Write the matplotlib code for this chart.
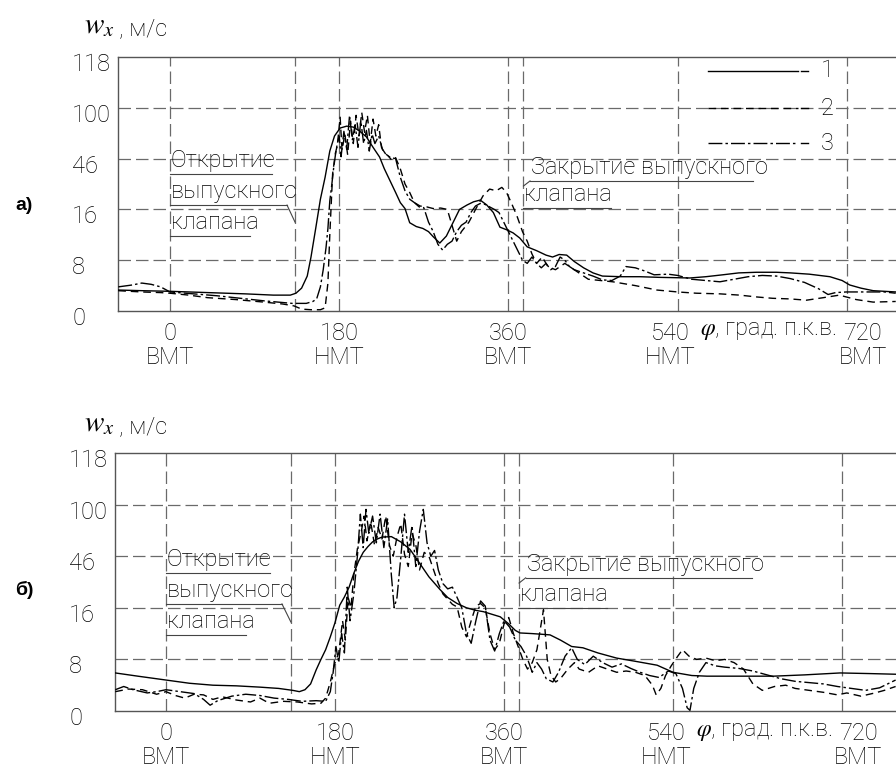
import numpy as np
import matplotlib
matplotlib.use("Agg")
import matplotlib.pyplot as plt
import matplotlib.transforms as mtransforms

plt.rcParams.update({
    "font.family": ["Roboto", "DejaVu Sans"],
    "font.weight": "light",
    "mathtext.fontset": "stix",
})

# ---------------- data ----------------
Y_TICKS = [0, 8, 16, 46, 100, 118]
X_TICKS = [0, 180, 360, 540, 720]
X_TICK_LBL = ["0\nВМТ", "180\nНМТ", "360\nВМТ", "540\nНМТ", "720\nВМТ"]
PHI_OPEN = 133      # открытие выпускного клапана
PHI_CLOSE = 376     # закрытие выпускного клапана

# панель а)
a_phi1 = [-55, -30, 0, 40, 80, 110, 128, 134, 140, 146, 150, 155, 160, 165, 170, 175, 181, 188, 195,
          202, 209, 216, 223, 228, 234, 240, 245, 250, 255, 262, 269, 275, 280, 287, 294, 301, 308,
          316, 323, 330, 337, 344, 351, 358, 365, 372, 380, 390, 400, 407, 414, 422, 430, 440, 450,
          460, 480, 500, 520, 553, 570, 588, 605, 624, 645, 660, 680, 702, 715, 723, 735, 748, 772]
a_w1 = [3.3, 3.2, 3.1, 2.9, 2.7, 2.5, 2.5, 2.8, 3.6, 5.5, 8.5, 13, 22, 35, 54, 70, 78.5, 80.5, 79.5,
        75, 69, 58, 47.6, 40, 33, 26, 20, 16.5, 13.9, 13.3, 13, 12.5, 11.7, 10.7, 11.8, 13.9, 16,
        18.6, 20.5, 21.5, 18.6, 15.5, 13.2, 12.8, 12.3, 11.5, 10.1, 9.5, 8.8, 8.5, 8.9, 8.8, 7.8, 6.8, 6.0,
        5.5, 5.4, 5.4, 5.3, 5.2, 5.4, 5.7, 6.0, 6.1, 6.1, 6.0, 5.8, 5.4, 4.8, 4.1, 3.6, 3.2, 3.0]

a_phi2 = [-55, -30, -10, 0, 20, 40, 70, 100, 120, 132, 140, 150, 160, 165, 168, 170, 173, 176, 178,
          181, 183, 186, 189, 192, 195, 198, 201, 204, 207, 210, 213, 216, 219, 222, 225, 228, 232,
          236, 240, 245, 250, 255, 260, 266, 273, 280, 288, 295, 300, 305, 310, 318, 326, 333, 340,
          347, 353, 358, 363, 369, 375, 380, 385, 390, 396, 402, 410, 420, 430, 445, 471, 495, 518,
          540, 560, 585, 606, 625, 641, 660, 677, 695, 712, 730, 748, 772]
a_w2 = [3.2, 3.0, 2.9, 2.8, 2.5, 2.1, 1.8, 1.4, 1.1, 0.8, 0.3, 0.2, 0.2, 0.5, 4.4, 12, 37, 52, 60,
        90, 55, 72, 50, 86, 62, 92, 70, 95, 74, 92, 62, 88, 70, 82, 58, 52, 49,
        45, 47, 40, 31, 26, 20, 18, 17.5, 16.5, 16.8, 16, 13.5, 11, 12.5, 14, 17, 24, 28,
        27, 29, 26, 20, 15, 12.5, 11, 9, 7.5, 8.5, 7, 6.5, 7.5, 6.5, 5, 4.6, 4.0, 3.3,
        3.0, 2.8, 2.7, 2.5, 2.2, 2.0, 1.9, 1.7, 2.1, 2.5, 1.8, 1.4, 1.5]

a_phi3 = [-55, -40, -30, -20, -10, 0, 25, 50, 75, 100, 130, 145, 152, 156, 160, 163, 166, 168, 170,
          172, 174, 176, 178, 180, 182, 185, 188, 191, 194, 197, 200, 203, 206, 209, 212, 215, 218,
          222, 226, 230, 235, 240, 245, 250, 255, 260, 265, 270, 275, 280, 285, 290, 295, 300, 305,
          310, 315, 320, 325, 330, 335, 340, 345, 350, 355, 360, 365, 370, 375, 380, 385, 390, 395,
          400, 405, 410, 415, 420, 425, 430, 440, 450, 460, 470, 479, 485, 495, 505, 515, 530, 540,
          555, 570, 585, 600, 615, 630, 645, 660, 675, 690, 700, 708, 720, 740, 760, 772]
a_w3 = [3.8, 4.1, 4.4, 4.2, 3.8, 3.0, 2.7, 2.4, 2.0, 1.6, 1.2, 1.2, 1.5, 1.9, 3.8, 6.5, 10, 13, 21,
        30, 40, 50, 62, 70, 48, 75, 56, 92, 66, 82, 58, 86, 62, 76, 54, 72, 62,
        70, 56, 50, 47, 46, 35, 27, 22, 20, 17.5, 17, 14, 12.5, 10.5, 9.6, 10.5, 11, 12.5,
        13.5, 14, 15.5, 18, 19.5, 19, 17.5, 16, 15.5, 14, 12.5, 11, 9.5, 8, 7.5, 8.5, 7.5, 6.8,
        7.5, 6.5, 7, 8.5, 8, 7, 6.5, 6, 5.5, 4.9, 4.8, 5.5, 7.0, 6.8, 6.3, 5.7, 5.8, 5.6,
        5.0, 4.8, 4.6, 5.0, 5.4, 5.6, 5.5, 5.1, 4.5, 3.5, 2.6, 2.9, 3.0, 3.0, 3.0, 2.8]

# панель б)
b_phi1 = [-54, -30, 0, 25, 50, 75, 100, 120, 135, 142, 148, 154, 160, 165, 170, 175, 180, 185, 190,
          195, 200, 205, 210, 215, 220, 225, 230, 240, 250, 260, 270, 280, 292, 300, 310, 320, 330,
          338, 347, 356, 365, 372, 377, 390, 400, 409, 420, 432, 444, 460, 480, 500, 523, 540, 560,
          576, 600, 647, 680, 718, 750, 777]
b_w1 = [5.9, 5.4, 4.8, 4.3, 4.0, 3.9, 3.7, 3.5, 3.2, 3.0, 3.3, 4.2, 6.4, 8, 9.5, 11.5, 13.7, 17.5, 22.3,
        28, 36, 43, 50, 56, 61, 64, 66, 66.5, 61, 53, 42, 34, 26.5, 22, 18.5, 16, 15.6,
        15.4, 15, 14.6, 13.5, 12.5, 12.1, 12.0, 11.9, 11.8, 11, 10, 9.8, 9, 8.2, 7.7, 7.1, 6.0, 5.5,
        5.4, 5.4, 5.4, 5.6, 5.9, 5.8, 5.7]

b_phi2 = [-54, -40, -25, -10, 0, 10, 20, 30, 40, 50, 60, 75, 90, 100, 110, 125, 140, 155, 165, 170,
          175, 180, 184, 188, 191, 194, 197, 200, 204, 208, 211, 214, 218, 222, 226, 230, 234, 238,
          242, 246, 250, 254, 258, 262, 266, 270, 275, 280, 285, 290, 295, 300, 305, 310, 315, 320,
          325, 330, 335, 340, 345, 350, 355, 360, 365, 370, 375, 380, 385, 390, 395, 402, 406, 410,
          415, 420, 428, 435, 440, 450, 460, 470, 480, 490, 500, 510, 518, 522, 527, 532, 538, 545,
          550, 557, 565, 575, 585, 595, 605, 615, 625, 635, 648, 660, 670, 685, 700, 715, 725, 740,
          755, 765, 777]
b_w2 = [3.0, 3.4, 3.3, 2.6, 3.0, 2.4, 2.0, 2.6, 2.5, 1.8, 2.2, 1.7, 1.4, 2.0, 1.2, 1.5, 1.4, 1.1, 1.2, 2.0,
        4.5, 7.5, 9, 14, 11, 22, 16, 35, 55, 72, 88, 62, 82, 58, 76, 64, 88, 57,
        46, 66, 80, 48, 40, 70, 58, 38, 50, 46, 38, 30, 24, 21, 18, 16.5, 13, 11.5,
        14, 17, 18.5, 16, 12, 9.5, 10.5, 13.5, 14.5, 12, 10, 8, 6.5, 7.5, 9.5, 15.7, 8, 5.5,
        4.5, 5, 6.5, 7.5, 6.5, 6, 7, 6.5, 6, 6.2, 6.0, 5.5, 4.0, 2.5, 3.5, 5.5, 7.0, 8.5,
        9.5, 8.5, 8.0, 8.2, 7.8, 8.0, 7.5, 6.5, 4.2, 3.2, 3.8, 4.0, 3.5, 3.2, 2.9, 2.5, 2.8, 2.3,
        2.8, 3.2, 3.8]

b_phi3 = [-54, -45, -35, -20, -10, 0, 15, 30, 40, 47, 55, 70, 85, 100, 115, 130, 145, 160, 170, 175,
          178, 181, 184, 187, 190, 193, 196, 200, 204, 207, 210, 213, 216, 220, 224, 228, 232, 236,
          240, 243, 246, 250, 254, 258, 262, 266, 270, 274, 278, 282, 286, 290, 295, 300, 305, 310,
          315, 320, 325, 330, 335, 340, 345, 350, 355, 360, 366, 372, 378, 384, 390, 395, 400, 405,
          412, 418, 425, 432, 438, 446, 455, 465, 475, 485, 495, 505, 515, 525, 535, 543, 550, 555,
          558, 562, 568, 575, 585, 595, 610, 625, 640, 655, 670, 685, 700, 715, 730, 745, 760, 777]
b_w3 = [3.3, 3.8, 3.3, 2.8, 3.0, 3.3, 3.0, 2.7, 1.8, 0.9, 1.6, 2.3, 2.6, 2.4, 2.0, 1.8, 1.5, 1.6, 1.5, 3,
        6, 10, 7.5, 12, 9, 28, 14, 24, 48, 90, 55, 95, 70, 88, 60, 90, 55, 85,
        35, 16, 22, 45, 90, 50, 78, 40, 72, 95, 60, 46, 52, 38, 30, 27, 28, 22,
        16, 12, 10.5, 14, 20, 17, 11, 9.3, 12, 14, 13, 11, 10, 8.5, 6.0, 7.5, 6.5, 5.0,
        4.5, 6.0, 8.5, 9.8, 8.0, 7.2, 8.5, 7.5, 6.8, 7.3, 6.6, 6.0, 5.5, 5.2, 6.2, 5.8, 3.5, 0.5,
        0.1, 3.5, 6.0, 7.5, 7.0, 6.8, 6.6, 6.2, 5.6, 5.0, 4.6, 4.4, 4.2, 3.8, 3.5, 3.2, 3.6, 4.8]

# ---------------- styles ----------------
LS = ["-", (0, (5.5, 3.5)), (0, (10, 2.2, 1.8, 2.2))]
GRID_KW = dict(color="#6a6a6a", lw=0.9, ls=(0, (10, 4)), zorder=1)
FS = 17
Y_POS = np.arange(len(Y_TICKS))


def fwd(v):
    return np.interp(v, Y_TICKS, Y_POS)


def inv(p):
    return np.interp(p, Y_POS, Y_TICKS)


fig = plt.figure(figsize=(8.96, 7.69), dpi=100)


def px(dx, dy):
    return mtransforms.ScaledTranslation(dx / 100, -dy / 100, fig.dpi_scale_trans)


def panel(ax, series, xlim, notes, legend=False):
    ax.set_yscale("function", functions=(fwd, inv))
    ax.set_ylim(0, 118)
    ax.set_xlim(*xlim)
    for (phi, w), ls in zip(series, LS):
        ax.plot(phi, w, color="black", lw=1.0, ls=ls, zorder=3)

    for y in Y_TICKS[1:-1]:
        ax.axhline(y, **GRID_KW)
    for x in X_TICKS + [PHI_OPEN, PHI_CLOSE]:
        ax.axvline(x, **GRID_KW)

    ax.set_yticks(Y_TICKS, [str(v) for v in Y_TICKS])
    ax.set_xticks(X_TICKS, X_TICK_LBL)
    ax.tick_params(length=0, labelsize=FS)
    ax.tick_params(axis="y", pad=33)
    ax.tick_params(axis="x", pad=8)
    for lbl in ax.get_yticklabels():
        lbl.set_horizontalalignment("left")
        lbl.set_transform(lbl.get_transform() + px(0, 5))
    for lbl in ax.get_xticklabels():
        lbl.set_linespacing(1.05)
    xl = ax.get_xticklabels()
    xl[3].set_transform(xl[3].get_transform() + px(-7, 0))
    xl[4].set_transform(xl[4].get_transform() + px(16, 0))

    for s in ["top", "left", "bottom"]:
        ax.spines[s].set_color("#555555")
        ax.spines[s].set_linewidth(1.0)
    ax.spines["right"].set_visible(False)

    tr = mtransforms.blended_transform_factory(ax.transData, ax.transAxes)
    ax.text(564, -0.078, "$\\varphi$, град. п.к.в.", transform=tr, fontsize=FS,
            ha="left", va="center")

    # подписи с подчёркиванием
    for x0, x1, y, text in notes["rows"]:
        ax.plot([x0, x1], [y, y], color="#444444", lw=0.8, transform=tr, zorder=2)
        ax.text(x0 + 1, y + 0.008, text, transform=tr, fontsize=FS, ha="left", va="bottom",
                zorder=4)
    for (x0, y0), (x1, y1) in notes["leaders"]:
        ax.plot([x0, x1], [y0, y1], color="#444444", lw=0.8, transform=tr, zorder=2)

    if legend:
        for ls, y, n in zip(LS, [0.945, 0.799, 0.661], ["1", "2", "3"]):
            ax.plot([572, 668], [y, y], color="black", lw=1.0, ls=ls, transform=tr, zorder=4)
            ax.plot([671, 679], [y, y], color="black", lw=1.0, transform=tr, zorder=4)
            ax.text(692, y, n, transform=tr, fontsize=FS, ha="left", va="center")


ax_a = fig.add_axes([118 / 896, 1 - 311 / 769, 1 - 118 / 896, 254 / 769])
ax_b = fig.add_axes([115 / 896, 1 - 711 / 769, 1 - 115 / 896, 258 / 769])

panel(ax_a, [(a_phi1, a_w1), (a_phi2, a_w2), (a_phi3, a_w3)], (-55.3, 772.3),
      {"rows": [(0, 108, 0.539, "Открытие"), (0, 124.5, 0.417, "выпускного"),
                (0, 85, 0.295, "клапана"), (383, 620, 0.512, "Закрытие выпускного"),
                (PHI_CLOSE, 469, 0.406, "клапана")],
       "leaders": [((124.5, 0.417), (PHI_OPEN, 0.350)), ((383, 0.512), (PHI_CLOSE, 0.492))]},
      legend=True)
panel(ax_b, [(b_phi1, b_w1), (b_phi2, b_w2), (b_phi3, b_w3)], (-54.3, 777.4),
      {"rows": [(0, 111, 0.535, "Открытие"), (0, 123.5, 0.415, "выпускного"),
                (0, 85, 0.295, "клапана"), (383, 624, 0.516, "Закрытие выпускного"),
                (PHI_CLOSE, 470, 0.399, "клапана")],
       "leaders": [((123.5, 0.415), (PHI_OPEN, 0.345)), ((383, 0.516), (PHI_CLOSE, 0.496))]})

for ytop in [33, 431]:
    fig.text(84 / 896, 1 - ytop / 769, r"$w_x$", fontsize=21, va="baseline")
    fig.text(119 / 896, 1 - (ytop + 2) / 769, ", м/с", fontsize=FS, va="baseline")

fig.text(15 / 896, 1 - 205 / 769, "а)", family=["Liberation Sans", "DejaVu Sans"],
         fontweight="bold", fontsize=14, va="center")
fig.text(15 / 896, 1 - 590 / 769, "б)", family=["Liberation Sans", "DejaVu Sans"],
         fontweight="bold", fontsize=14, va="center")

fig.savefig("out.png", dpi=100)
